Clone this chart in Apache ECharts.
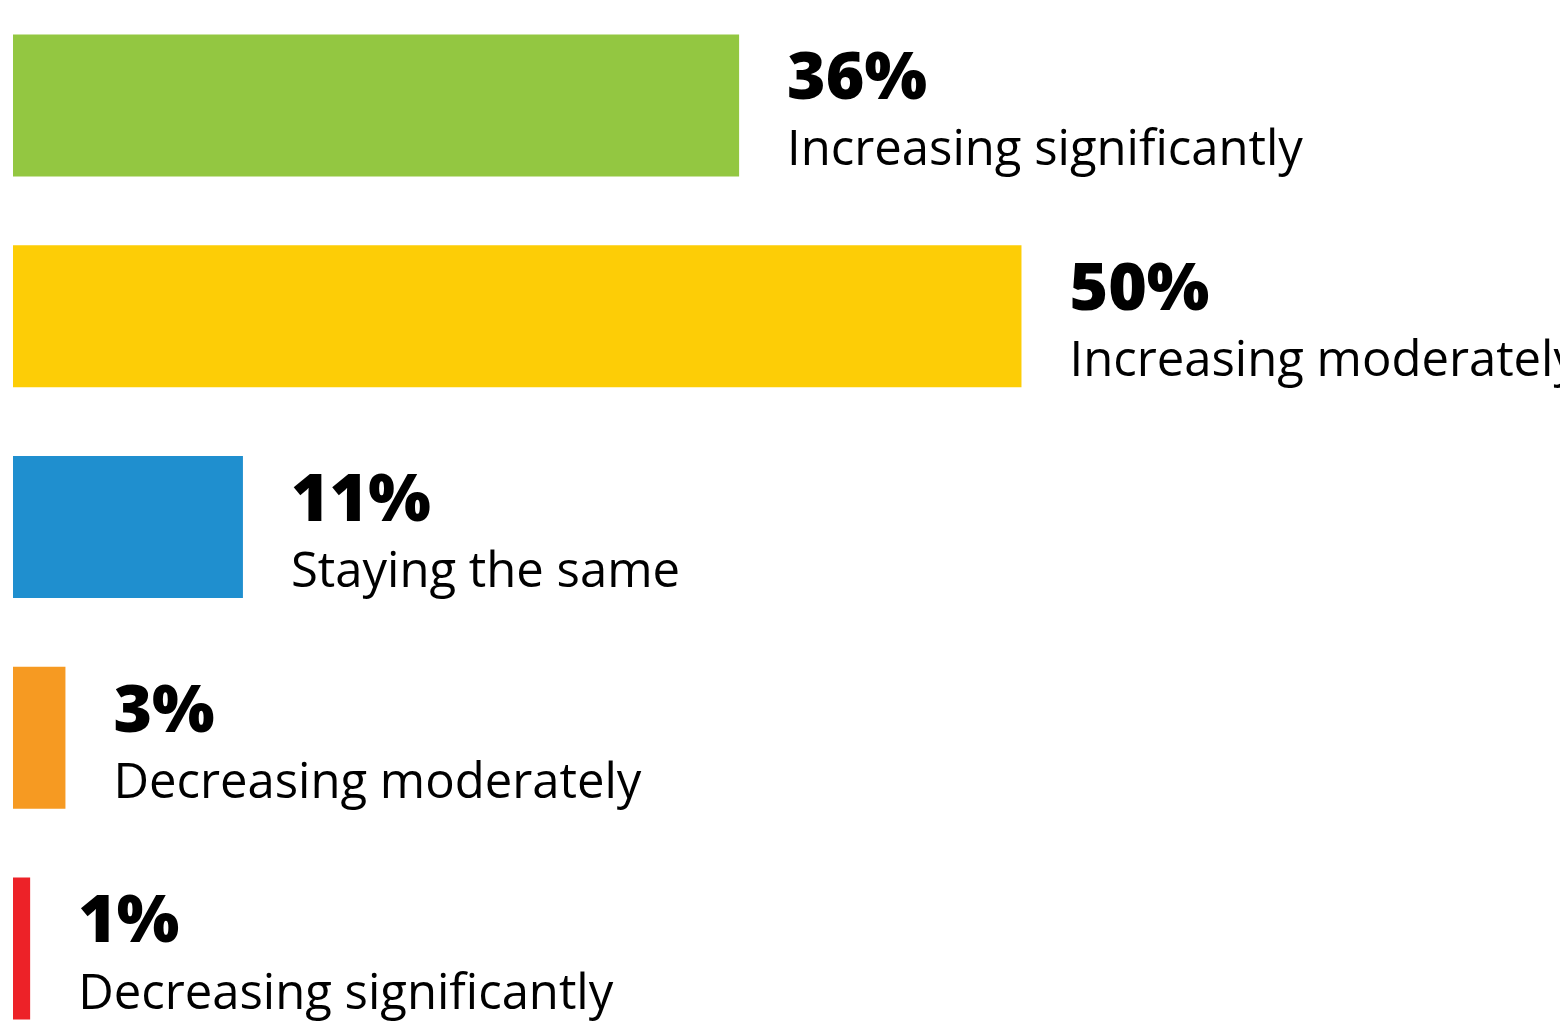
<!DOCTYPE html>
<html>
<head>
<meta charset="utf-8">
<script src="https://cdn.jsdelivr.net/npm/echarts@6/dist/echarts.min.js"></script>
<style>
  html, body { margin: 0; padding: 0; background: #fff; overflow: hidden; }
  /* el contenedor es mas alto que la ventana: la ultima barra queda recortada igual que en el original */
  #main { width: 1560px; height: 1054px; }
</style>
</head>
<body>
<div id="main"></div>
<script>
// categorias y valores
const categories = ['Increasing significantly', 'Increasing moderately', 'Staying the same', 'Decreasing moderately', 'Decreasing significantly'];
const values = [36, 50, 11.4, 2.6, 0.85];
const valueLabels = ['36%', '50%', '11%', '3%', '1%'];
const colors = ['#93c741', '#fdcd06', '#1f8fcf', '#f69a22', '#ed2228'];

const chart = echarts.init(document.getElementById('main'));

const option = {
  animation: false,
  grid: { left: 13, top: 0, right: 0, bottom: 0 },
  xAxis: {
    type: 'value',
    min: 0,
    max: 76.7,
    show: false
  },
  yAxis: {
    type: 'category',
    data: categories,
    inverse: true,
    show: false
  },
  series: [
    {
      type: 'bar',
      barWidth: 142,
      data: values.map((v, i) => ({
        value: v,
        itemStyle: { color: colors[i] }
      })),
      label: {
        show: true,
        position: 'right',
        distance: 48,
        align: 'left',
        formatter: (p) => '{a|' + valueLabels[p.dataIndex] + '}\n{b|' + categories[p.dataIndex] + '}',
        rich: {
          a: { fontFamily: 'Open Sans', fontWeight: 800, fontSize: 66, lineHeight: 92, color: '#000' },
          b: { fontFamily: 'Open Sans', fontWeight: 400, fontSize: 49, lineHeight: 50, color: '#000' }
        }
      }
    }
  ]
};

chart.setOption(option);
</script>
</body>
</html>
